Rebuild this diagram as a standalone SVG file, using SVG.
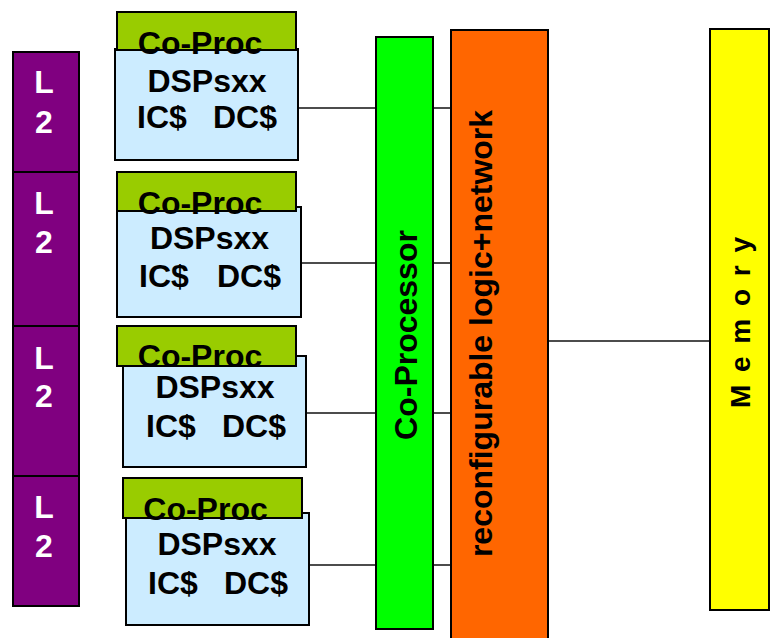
<svg xmlns="http://www.w3.org/2000/svg" width="772" height="638" viewBox="0 0 772 638">
  <style>
    .box { stroke: #000; stroke-width: 2; }
    .l2 { fill: #800080; }
    .cop { fill: #99CC00; }
    .dsp { fill: #CCECFF; }
    .lbl { font-family: "Liberation Sans", Arial, sans-serif; font-weight: bold; font-size: 32px; fill: #000; }
    .wlbl { font-family: "Liberation Sans", Arial, sans-serif; font-weight: bold; font-size: 32px; fill: #fff; text-anchor: middle; }
    .mid { text-anchor: middle; }
    .wire { stroke: #111; stroke-width: 1.5; fill: none; }
  </style>
  <rect width="772" height="638" fill="#fff"/>

  <!-- connectors -->
  <g id="connectors">
    <line class="wire" x1="298" y1="108" x2="451" y2="108"/>
    <line class="wire" x1="301" y1="263" x2="451" y2="263"/>
    <line class="wire" x1="306" y1="413" x2="451" y2="413"/>
    <line class="wire" x1="309" y1="565" x2="451" y2="565"/>
    <line class="wire" x1="548" y1="341" x2="710" y2="341"/>
  </g>

  <!-- L2 cache column -->
  <g id="l2-1">
    <rect class="box l2" x="13" y="52" width="66" height="120"/>
    <text class="wlbl" x="44" y="93">L</text>
    <text class="wlbl" x="44" y="133">2</text>
  </g>
  <g id="l2-2">
    <rect class="box l2" x="13" y="172" width="66" height="154"/>
    <text class="wlbl" x="44" y="214">L</text>
    <text class="wlbl" x="44" y="253">2</text>
  </g>
  <g id="l2-3">
    <rect class="box l2" x="13" y="326" width="66" height="150"/>
    <text class="wlbl" x="44" y="369">L</text>
    <text class="wlbl" x="44" y="407">2</text>
  </g>
  <g id="l2-4">
    <rect class="box l2" x="13" y="476" width="66" height="130"/>
    <text class="wlbl" x="44" y="518">L</text>
    <text class="wlbl" x="44" y="557">2</text>
  </g>

  <!-- DSP cores with co-processor tabs -->
  <g id="dsp-1">
    <rect class="box dsp" x="115" y="49" width="183" height="111"/>
    <rect class="box cop" x="117" y="12" width="179" height="38"/>
    <text class="lbl mid" x="200" y="54">Co-Proc</text>
    <text class="lbl mid" x="207" y="92">DSPsxx</text>
    <text class="lbl" y="128"><tspan x="137">IC$</tspan><tspan x="213">DC$</tspan></text>
  </g>
  <g id="dsp-2">
    <rect class="box dsp" x="117" y="207" width="184" height="110"/>
    <rect class="box cop" x="117" y="172" width="179" height="39"/>
    <text class="lbl mid" x="200" y="214">Co-Proc</text>
    <text class="lbl mid" x="209.5" y="249">DSPsxx</text>
    <text class="lbl" y="287"><tspan x="139">IC$</tspan><tspan x="217">DC$</tspan></text>
  </g>
  <g id="dsp-3">
    <rect class="box dsp" x="123" y="356" width="183" height="111"/>
    <rect class="box cop" x="117" y="326" width="179" height="40"/>
    <text class="lbl mid" x="200" y="367">Co-Proc</text>
    <text class="lbl mid" x="215" y="398">DSPsxx</text>
    <text class="lbl" y="437"><tspan x="146">IC$</tspan><tspan x="222">DC$</tspan></text>
  </g>
  <g id="dsp-4">
    <rect class="box dsp" x="126" y="513" width="183" height="112"/>
    <rect class="box cop" x="123" y="478" width="179" height="40"/>
    <text class="lbl mid" x="205.5" y="520">Co-Proc</text>
    <text class="lbl mid" x="217" y="555">DSPsxx</text>
    <text class="lbl" y="594"><tspan x="148">IC$</tspan><tspan x="224">DC$</tspan></text>
  </g>

  <!-- shared blocks -->
  <g id="coprocessor">
    <rect class="box" x="376" y="37" width="57" height="592" fill="#00FF00"/>
    <text class="lbl mid" transform="translate(417 335) rotate(-90)">Co-Processor</text>
  </g>
  <g id="reconfig">
    <rect class="box" x="451" y="30" width="97" height="620" fill="#FF6600"/>
    <text class="lbl mid" transform="translate(492 333.5) rotate(-90)">reconfigurable logic+network</text>
  </g>
  <g id="memory">
    <rect class="box" x="710" y="29" width="59" height="581" fill="#FFFF00"/>
    <text class="lbl mid" style="font-size:28px" transform="translate(750 322.5) rotate(-90)" textLength="171" lengthAdjust="spacing">M e m o r y</text>
  </g>
</svg>
